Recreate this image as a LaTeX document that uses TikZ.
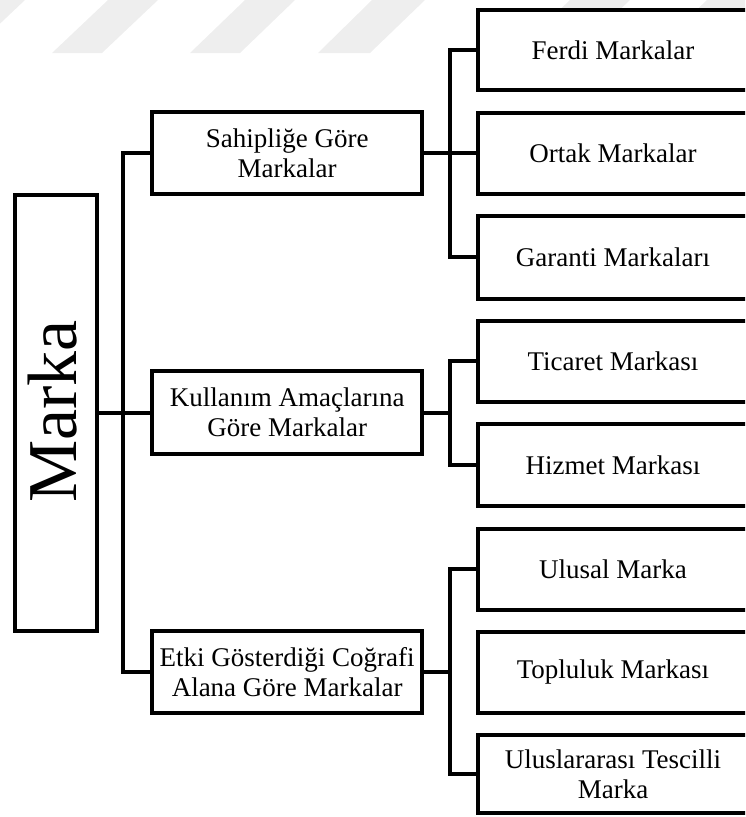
\documentclass[tikz,border=0pt]{standalone}
\usepackage{fontspec}
\setmainfont{Liberation Serif}
\begin{document}
\begin{tikzpicture}[x=1pt,y=-1pt,
  box/.style={draw=black,line width=4pt,fill=white,inner sep=0pt,align=center,
    font=\fontsize{27}{30}\selectfont},
  midbox/.style={box,minimum width=270.5pt,minimum height=82.5pt},
  leafbox/.style={box,minimum width=270pt,minimum height=81pt},
  conn/.style={line width=4pt,line join=miter},
  wm/.style={fill=gray!13,draw=none}]
\clip (0,0) rectangle (745,817);
\useasboundingbox (0,0) rectangle (745,817);
% watermark stripes
\fill[wm] (-81,53) -- (-31,53) -- (25,0) -- (-25,0) -- cycle;
\fill[wm] (52,53) -- (102,53) -- (158,0) -- (108,0) -- cycle;
\fill[wm] (190,53) -- (240,53) -- (295,0) -- (245,0) -- cycle;
\fill[wm] (318,53) -- (370,53) -- (425,0) -- (372,0) -- cycle;
\fill[wm] (514,53) -- (574,53) -- (630,0) -- (570,0) -- cycle;
\fill[wm] (651,53) -- (711,53) -- (767,0) -- (707,0) -- cycle;
% nodes
\node[box,minimum width=82pt,minimum height=436pt] (marka) at (55.5,412.5) {};
\node[rotate=90,inner sep=0pt,font=\fontsize{70}{70}\selectfont] (markatxt) at (53,411.5) {Marka};
\node[midbox] (sah) at (287.2,153.2) {Sahipliğe Göre\\Markalar};
\node[midbox] (kul) at (287.2,412.5) {Kullanım Amaçlarına\\Göre Markalar};
\node[midbox] (etk) at (287.2,672) {Etki Gösterdiği Coğrafi\\Alana Göre Markalar};
\node[leafbox,minimum height=80pt] (fer) at (613,50) {Ferdi Markalar};
\node[leafbox] (ort) at (613,153.2) {Ortak Markalar};
\node[leafbox,minimum height=83pt] (gar) at (613,257.4) {Garanti Markaları};
\node[leafbox] (tic) at (613,361.3) {Ticaret Markası};
\node[leafbox,minimum height=82pt] (hiz) at (613,465) {Hizmet Markası};
\node[leafbox] (uls) at (613,569) {Ulusal Marka};
\node[leafbox] (top) at (613,672.4) {Topluluk Markası};
\node[leafbox,minimum height=77.5pt] (ulm) at (613,773.8) {Uluslararası Tescilli\\Marka};
% connectors
\draw[conn] (marka.east) -- (kul.west);
\draw[conn] (sah.west) -- ++(-27,0) |- (etk.west);
\draw[conn] (sah.east) -- (ort.west);
\draw[conn] (fer.west) -- ++(-26.5,0) |- (gar.west);
\draw[conn] (kul.east) -- (kul.east -| 451.5,0);
\draw[conn] (tic.west) -- ++(-26.5,0) |- (hiz.west);
\draw[conn] (etk.east) -- (etk.east -| 451.5,0);
\draw[conn] (uls.west) -- ++(-26.5,0) |- (ulm.west);
\end{tikzpicture}
\end{document}
